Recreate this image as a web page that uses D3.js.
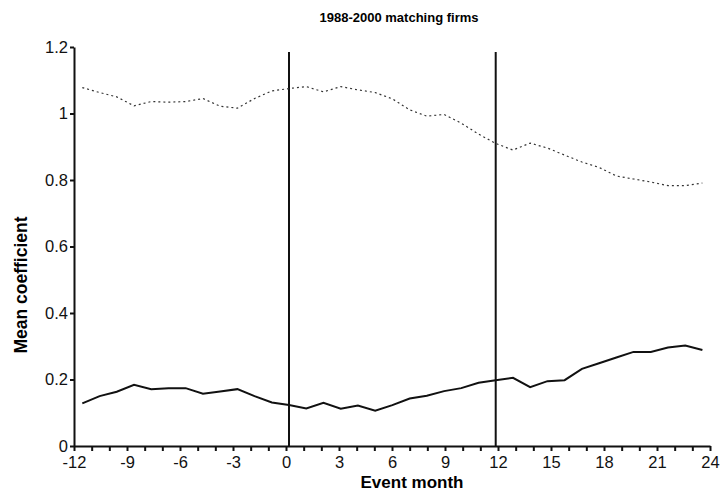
<!DOCTYPE html>
<html>
<head>
<meta charset="utf-8">
<script src="https://cdn.jsdelivr.net/npm/d3@7"></script>
<style>
	body { margin: 0; background: #fff; }
	svg { display: block; font-family: "Liberation Sans", Arial, sans-serif; }
	.axis path, .axis line { stroke: #111; stroke-width: 2px; }
	.axis text { font-size: 16.5px; fill: #111; }
</style>
</head>
<body>
<svg id="chart"></svg>
<script>
// event months of the plotted points
const months = [-11.53, -10.55, -9.58, -8.60, -7.63, -6.65, -5.68, -4.70, -3.73, -2.75,
	-1.78, -0.80, 0.17, 1.15, 2.12, 3.10, 4.07, 5.05, 6.02, 7.00,
	7.97, 8.95, 9.92, 10.90, 11.87, 12.85, 13.82, 14.80, 15.77, 16.75,
	17.72, 18.70, 19.67, 20.65, 21.62, 22.60, 23.57];

// solid series
const lowSeries = [0.128, 0.150, 0.163, 0.184, 0.171, 0.174, 0.174, 0.157, 0.164, 0.171,
	0.150, 0.131, 0.123, 0.113, 0.130, 0.112, 0.122, 0.106, 0.123, 0.143,
	0.151, 0.165, 0.174, 0.190, 0.198, 0.205, 0.177, 0.195, 0.198, 0.232,
	0.249, 0.266, 0.283, 0.283, 0.296, 0.302, 0.289];

// dotted series
const highSeries = [1.078, 1.063, 1.050, 1.023, 1.036, 1.034, 1.036, 1.045, 1.022, 1.016,
	1.045, 1.068, 1.075, 1.081, 1.065, 1.081, 1.071, 1.063, 1.044, 1.011,
	0.992, 0.997, 0.971, 0.938, 0.910, 0.890, 0.911, 0.896, 0.875, 0.854,
	0.838, 0.812, 0.803, 0.794, 0.783, 0.783, 0.791];

// event markers (vertical lines)
const markers = [0.17, 11.87];
const markerTop = 1.185;

const xTickLabels = [-12, -9, -6, -3, 0, 3, 6, 9, 12, 15, 18, 21, 24];
const yTickLabels = [0, 0.2, 0.4, 0.6, 0.8, 1, 1.2];

const W = 723, H = 492;
const marg = { top: 47, right: 13, bottom: 46, left: 74 };

const svg = d3.select('#chart').attr('width', W).attr('height', H);

const x = d3.scaleLinear().domain([-12, 24]).range([marg.left, W - marg.right]);
const y = d3.scaleLinear().domain([0, 1.2]).range([H - marg.bottom, marg.top]);

// x axis: minor tick every month, label every 3
svg.append('g')
	.attr('class', 'axis')
	.attr('transform', 'translate(0,' + (H - marg.bottom) + ')')
	.call(d3.axisBottom(x).tickValues(d3.range(-12, 25, 1)).tickSize(5).tickPadding(5).tickSizeOuter(0)
		.tickFormat(d => xTickLabels.includes(d) ? d : ''));

svg.append('g')
	.attr('class', 'axis')
	.attr('transform', 'translate(' + marg.left + ',0)')
	.call(d3.axisLeft(y).tickValues(yTickLabels).tickSize(4).tickPadding(2).tickSizeOuter(0)
		.tickFormat(d => d));

// vertical event lines
svg.selectAll('line.marker')
	.data(markers)
	.enter()
	.append('line')
	.attr('class', 'marker')
	.attr('x1', d => x(d)).attr('x2', d => x(d))
	.attr('y1', y(markerTop)).attr('y2', y(0))
	.attr('stroke', '#111')
	.attr('stroke-width', 2);

const line = d3.line()
	.x((d, i) => x(months[i]))
	.y(d => y(d));

svg.append('path')
	.datum(highSeries)
	.attr('d', line)
	.attr('fill', 'none')
	.attr('stroke', '#333')
	.attr('stroke-width', 1.2)
	.attr('stroke-dasharray', '2,3');

svg.append('path')
	.datum(lowSeries)
	.attr('d', line)
	.attr('fill', 'none')
	.attr('stroke', '#111')
	.attr('stroke-width', 2);

// titles
svg.append('text')
	.attr('x', 399).attr('y', 22)
	.attr('text-anchor', 'middle')
	.attr('font-size', 13).attr('font-weight', 'bold')
	.text('1988-2000 matching firms');

svg.append('text')
	.attr('x', 412).attr('y', 487.5)
	.attr('text-anchor', 'middle')
	.attr('font-size', 17).attr('font-weight', 'bold')
	.text('Event month');

svg.append('text')
	.attr('transform', 'translate(27,' + 285 + ') rotate(-90)')
	.attr('text-anchor', 'middle')
	.attr('font-size', 17.5).attr('font-weight', 'bold')
	.text('Mean coefficient');
</script>
</body>
</html>
